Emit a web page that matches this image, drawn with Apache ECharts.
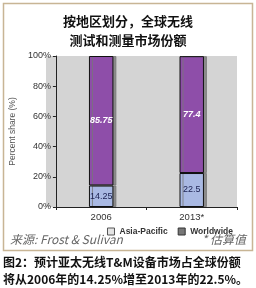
<!DOCTYPE html>
<html>
<head>
<meta charset="UTF-8">
<title>按地区划分全球无线测试和测量市场份额</title>
<script src="https://cdn.jsdelivr.net/npm/echarts@6/dist/echarts.min.js"></script>
<style>
  body { margin: 0; padding: 0; background: #fff; }
  #main { width: 256px; height: 288px; }
</style>
</head>
<body>
<div id="main"></div>
<script type="text/javascript">
// 数据
var years = ['2006', '2013*'];
var asiaPacific = [14.25, 22.5];
var worldwide = [85.75, 77.4];
var yTicks = ['0%', '20%', '40%', '60%', '80%', '100%'];

var myChart = echarts.init(document.getElementById('main'));
var cjk = '"Noto Sans CJK SC", sans-serif';
var barStyle = { borderColor: '#111', borderWidth: 1, shadowColor: 'rgba(120,120,120,0.8)', shadowOffsetX: 3, shadowBlur: 0 };

option = {
    backgroundColor: '#fff',
    animation: false,
    title: {
        text: '按地区划分，全球无线\n测试和测量市场份额',
        left: 'center', top: 7,
        textStyle: { fontFamily: cjk, fontSize: 13, fontWeight: 'bold', color: '#111', lineHeight: 19 }
    },
    grid: { left: 46, right: 19, top: 56, bottom: 81 },
    legend: {
        right: 18, top: 222,
        itemWidth: 7, itemHeight: 7, itemGap: 10,
        textStyle: { fontFamily: 'Arial, sans-serif', fontSize: 8.5, fontWeight: 'bold', color: '#333' },
        data: [
            { name: 'Asia-Pacific', icon: 'rect', itemStyle: { color: '#e4e4e4', borderColor: '#555', borderWidth: 1 } },
            { name: 'Worldwide', icon: 'rect', itemStyle: { color: '#777', borderColor: '#333', borderWidth: 1 } }
        ]
    },
    xAxis: {
        type: 'category',
        data: years,
        axisLine: { lineStyle: { color: '#222' } },
        axisTick: { show: true, length: 3, lineStyle: { color: '#222' } },
        axisLabel: { fontFamily: 'Arial, sans-serif', fontSize: 9.5, color: '#333', margin: 5 }
    },
    yAxis: {
        type: 'value', min: 0, max: 100, interval: 20,
        name: 'Percent share (%)', nameLocation: 'middle', nameGap: 31,
        nameTextStyle: { fontFamily: 'Arial, sans-serif', fontSize: 8.5, color: '#555' },
        axisLine: { show: true, lineStyle: { color: '#222' } },
        axisTick: { show: true, length: 3, lineStyle: { color: '#222' } },
        splitLine: { show: false },
        splitArea: { show: false },
        axisLabel: {
            fontFamily: 'Arial, sans-serif', fontSize: 9, color: '#333', margin: 5,
            formatter: function (v) { return yTicks[v / 20]; }
        }
    },
    series: [{
        name: 'Asia-Pacific',
        type: 'bar', stack: 'share', barWidth: '27%',
        data: asiaPacific,
        itemStyle: Object.assign({ color: '#a9b9e3' }, barStyle),
        label: { show: true, position: 'inside', fontFamily: 'Arial, sans-serif', fontSize: 9, color: '#1a2050' }
    }, {
        name: 'Worldwide',
        type: 'bar', stack: 'share', barWidth: '27%',
        data: worldwide,
        itemStyle: Object.assign({ color: '#8e4ea9' }, barStyle),
        label: { show: true, position: 'inside', fontFamily: 'Arial, sans-serif', fontSize: 9, fontStyle: 'italic', fontWeight: 'bold', color: '#fff' }
    }],
    graphic: [
        { type: 'rect', z: -10, shape: { x: 46, y: 56, width: 191, height: 151 }, style: { fill: '#d4d4d4' } },
        { type: 'rect', z: -20, shape: { x: 3.5, y: 3.5, width: 249, height: 247 }, style: { fill: '#fff', stroke: '#c8b595', lineWidth: 1.5 } },
        { type: 'text', left: 10, top: 233, style: { text: '来源: Frost & Sulivan', font: 'italic 12px ' + cjk, fill: '#666' } },
        { type: 'text', right: 10, top: 233, style: { text: '* 估算值', font: 'italic 12px ' + cjk, fill: '#666' } },
        { type: 'text', left: 3, top: 254, style: { text: '图2：预计亚太无线T&M设备市场占全球份额\n将从2006年的14.25%增至2013年的22.5%。', font: 'bold 12px ' + cjk, fill: '#111', lineHeight: 17 } }
    ]
};
myChart.setOption(option);
</script>
</body>
</html>
